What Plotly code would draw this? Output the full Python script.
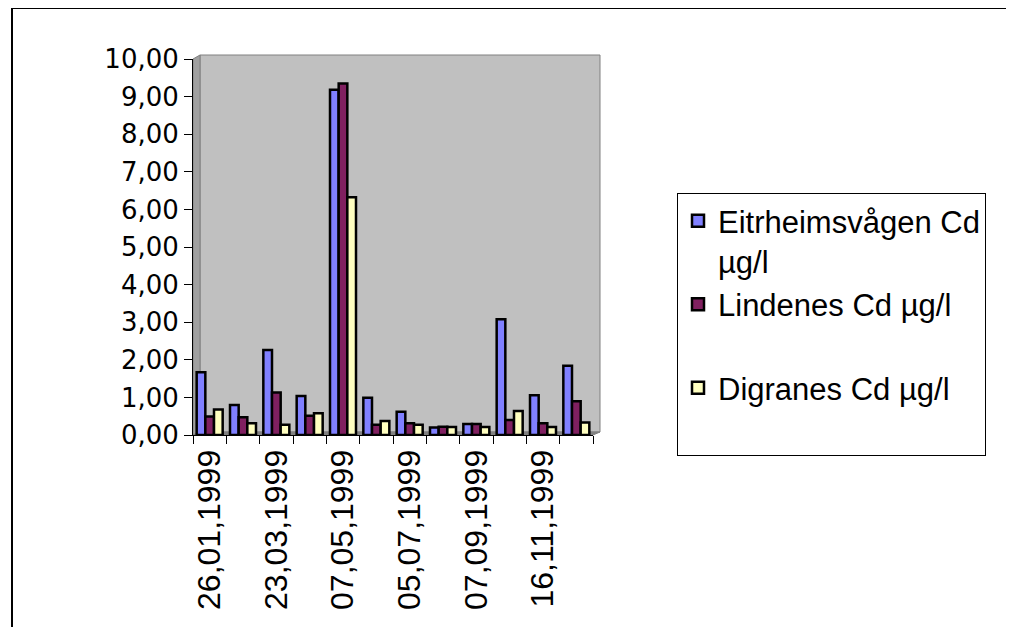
import plotly.graph_objects as go

dates = ["26,01,1999", "24,02,1999", "23,03,1999", "14,04,1999", "07,05,1999", "08,06,1999",
         "05,07,1999", "09,08,1999", "07,09,1999", "12,10,1999", "16,11,1999", "14,12,1999"]
eitrheim = [1.67, 0.80, 2.26, 1.04, 9.18, 0.99, 0.62, 0.20, 0.29, 3.08, 1.06, 1.84]
lindenes = [0.49, 0.47, 1.13, 0.51, 9.35, 0.27, 0.31, 0.22, 0.29, 0.40, 0.31, 0.90]
digranes = [0.68, 0.31, 0.27, 0.58, 6.32, 0.37, 0.27, 0.21, 0.21, 0.64, 0.21, 0.33]
names = ["Eitrheimsvågen Cd<br>µg/l", "Lindenes Cd µg/l<br> ", "Digranes Cd µg/l<br> "]
colors = ["#8080FF", "#802060", "#FFFFC0"]
yticks = [0, 1, 2, 3, 4, 5, 6, 7, 8, 9, 10]

idx = list(range(len(dates)))
shown = idx[::2]

fig = go.Figure()
for vals, nm, col in zip([eitrheim, lindenes, digranes], names, colors):
    fig.add_trace(go.Bar(x=idx, y=vals, name=nm,
                         marker=dict(color=col, line=dict(color="black", width=2.5))))

OFF = 8  # page body margin
FW, FH = 1014 - 2 * OFF, 635 - 2 * OFF
# plot geometry in page px: front plane x 193..593, y 59..435
L, R, T, B = 193 - OFF, 593 - OFF, 59 - OFF, 435 - OFF
W, H = R - L, B - T
def px(x):
    return (x - OFF - L) / W
def py(y):
    return (B - (y - OFF)) / H

shapes = [
    dict(type="rect", xref="paper", yref="paper", x0=px(200), x1=px(600), y0=py(432), y1=py(55),
         fillcolor="#C0C0C0", line=dict(color="#808080", width=1), layer="below"),
    dict(type="path", xref="paper", yref="paper",
         path=f"M {px(193)},{py(435)} L {px(200)},{py(432)} L {px(200)},{py(55)} L {px(193)},{py(59)} Z",
         fillcolor="#A0A0A0", line=dict(color="#808080", width=1), layer="below"),
    dict(type="path", xref="paper", yref="paper",
         path=f"M {px(193)},{py(435)} L {px(593)},{py(435)} L {px(600)},{py(432)} L {px(200)},{py(432)} Z",
         fillcolor="#808080", line=dict(color="#808080", width=1), layer="below"),
    dict(type="rect", xref="paper", yref="paper", x0=px(12), x1=px(1060), y0=py(680), y1=py(8),
         fillcolor="rgba(0,0,0,0)", line=dict(color="black", width=2), layer="below"),
]

fig.update_layout(
    width=FW, height=FH,
    margin=dict(l=L, r=FW - R, t=T, b=FH - B),
    paper_bgcolor="white", plot_bgcolor="rgba(0,0,0,0)",
    separators=",.",
    barmode="group", bargap=0.22, bargroupgap=0,
    showlegend=True,
    legend=dict(x=px(677), y=py(193), xanchor="left", yanchor="top",
                bordercolor="black", borderwidth=1, bgcolor="white",
                font=dict(family="Arial, Liberation Sans", size=31, color="black"),
                valign="top", tracegroupgap=0),
    shapes=shapes,
    xaxis=dict(range=[-0.5, 11.5], tickvals=shown, ticktext=[dates[i] for i in shown],
               tickangle=-90, ticks="outside", ticklen=1, tickcolor="rgba(0,0,0,0)",
               tickfont=dict(family="Arial, Liberation Sans", size=32, color="black"),
               showgrid=False, zeroline=False, showline=True, linecolor="black", linewidth=1,
               minor=dict(tickvals=[i - 0.5 for i in range(13)], ticks="outside", ticklen=8,
                          tickcolor="black", showgrid=False)),
    yaxis=dict(range=[0, 10], tickvals=yticks, tickformat=".2f",
               ticks="outside", ticklen=8, tickcolor="black",
               tickfont=dict(family="DejaVu Sans", size=26, color="black"),
               showgrid=False, zeroline=False, showline=True, linecolor="black", linewidth=1),
)

fig.write_html("out.html")
